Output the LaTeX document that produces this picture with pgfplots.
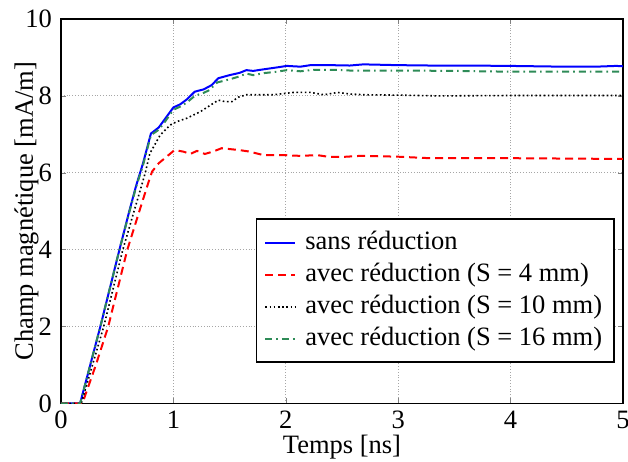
\documentclass[border=0pt]{standalone}
\usepackage{fontspec}
\setmainfont{Liberation Serif}
\usepackage{pgfplots}
\pgfplotsset{compat=1.18}
\definecolor{sgreen}{RGB}{46,139,87}
\begin{document}
\fontsize{13.25pt}{15.9pt}\selectfont
\begin{tikzpicture}
\begin{axis}[
  scale only axis,
  width=281pt, height=192.25pt,
  xmin=0, xmax=5, ymin=0, ymax=10,
  xtick={0,1,2,3,4,5}, ytick={0,2,4,6,8,10},
  tick align=inside, major tick length=2.5pt,
  xtick pos=both, ytick pos=both,
  xticklabel pos=bottom, yticklabel pos=left,
  grid=major,
  major grid style={gray!70, densely dotted, line width=0.4pt},
  axis line style={line width=0.8pt},
  /pgf/number format/assume math mode=true,
  ticklabel style={font=\rmfamily\fontsize{13.25pt}{15pt}\selectfont},
  xticklabel style={yshift=1pt},
  xlabel={Temps [ns]},
  ylabel={Champ magnétique [mA/m]},
  label style={font=\rmfamily\fontsize{13.25pt}{15pt}\selectfont},
  xlabel style={at={(axis description cs:0.5,-0.1300)}, anchor=base},
  ylabel style={at={(axis description cs:-0.0614,0.5)}, anchor=center},
  legend style={at={(axis description cs:0.9858,0.105)}, anchor=south east,
    draw=black, line width=0.9pt, font=\rmfamily\fontsize{13.25pt}{15pt}\selectfont,
    cells={anchor=west}, inner xsep=4pt, inner ysep=3.8pt,
    nodes={inner ysep=2.4pt}},
  legend image code/.code={\draw[#1, line width=0.9pt] (0pt,0pt) -- (15pt,0pt); \path (17.5pt,0pt);},
]
\coordinate (bl) at (rel axis cs:0,0);
\coordinate (tr) at (rel axis cs:1,1);
\addplot[blue, line width=1pt] coordinates {
(0,0) (0.17,0) (0.35,2) (0.52,4) (0.61,5.03) (0.67,5.68) (0.73,6.25) (0.80,7.02)
(0.87,7.18) (0.93,7.42) (1.0,7.70) (1.06,7.78) (1.12,7.91) (1.19,8.11) (1.27,8.17)
(1.34,8.28) (1.40,8.46) (1.50,8.54) (1.59,8.60) (1.65,8.67) (1.71,8.65) (1.80,8.69)
(1.92,8.74) (2.01,8.78) (2.13,8.76) (2.22,8.80) (2.39,8.80) (2.57,8.79) (2.69,8.82)
(2.99,8.80) (3.28,8.79) (3.58,8.79) (3.99,8.78) (4.47,8.76) (4.76,8.76) (4.94,8.78) (5.0,8.77)};
\addlegendentry{sans réduction}
\addplot[red, line width=1pt, dash pattern=on 4pt off 2.5pt] coordinates {
(0,0) (0.19,0) (0.31,1.0) (0.42,2) (0.59,4) (0.70,5.03) (0.78,5.77) (0.81,6.03)
(0.87,6.25) (0.94,6.42) (1.01,6.59) (1.09,6.55) (1.15,6.49) (1.21,6.57) (1.28,6.49)
(1.35,6.55) (1.43,6.64) (1.49,6.62) (1.59,6.59) (1.68,6.55) (1.80,6.46) (1.98,6.46)
(2.13,6.44) (2.28,6.46) (2.37,6.42) (2.49,6.41) (2.66,6.44) (2.99,6.42) (3.28,6.38)
(3.99,6.38) (4.5,6.37) (5.0,6.36)};
\addlegendentry{avec réduction (S = 4 mm)}
\addplot[black, line width=0.8pt, dash pattern=on 0.8pt off 1.3pt] coordinates {
(0,0) (0.18,0) (0.38,2) (0.55,4) (0.66,5.1) (0.75,6.0) (0.79,6.5) (0.88,6.97)
(0.97,7.24) (1.03,7.33) (1.12,7.42) (1.24,7.59) (1.33,7.76) (1.40,7.89) (1.46,7.85)
(1.52,7.85) (1.58,7.97) (1.65,8.03) (1.77,8.03) (1.89,8.03) (2.07,8.09) (2.22,8.09)
(2.34,8.03) (2.46,8.09) (2.57,8.05) (2.69,8.03) (3.0,8.02) (3.37,8.0) (3.99,8.01) (5.0,8.01)};
\addlegendentry{avec réduction (S = 10 mm)}
\addplot[sgreen, line width=1pt, dash pattern=on 3.5pt off 2pt on 0.8pt off 2pt] coordinates {
(0,0) (0.17,0) (0.35,2) (0.52,4) (0.61,5.0) (0.67,5.65) (0.73,6.2) (0.80,6.98)
(0.87,7.12) (0.93,7.35) (1.0,7.64) (1.06,7.72) (1.12,7.83) (1.19,8.0) (1.27,8.08)
(1.32,8.15) (1.39,8.35) (1.50,8.43) (1.58,8.5) (1.65,8.58) (1.71,8.54) (1.80,8.59)
(1.92,8.63) (2.01,8.67) (2.13,8.64) (2.25,8.68) (2.43,8.68) (2.57,8.66) (2.99,8.66)
(3.5,8.65) (3.99,8.63) (4.5,8.63) (5.0,8.63)};
\addlegendentry{avec réduction (S = 16 mm)}
\end{axis}
\pgfresetboundingbox
\path[use as bounding box] (bl) ++(-30.5pt,-29pt) coordinate (BL)
  (tr) ++(2.5pt,9.5pt) coordinate (TR) (BL) rectangle (TR);
\end{tikzpicture}
\end{document}
